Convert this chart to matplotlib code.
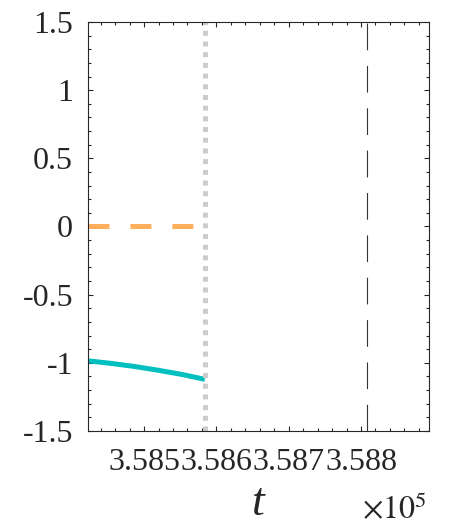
import matplotlib
matplotlib.use("Agg")
import matplotlib.pyplot as plt
from matplotlib.ticker import MultipleLocator, FuncFormatter

# ---- data ----
t_curve = [358422, 358454, 358487, 358519, 358552, 358584]
y_cyan = [-0.985, -1.004, -1.027, -1.054, -1.085, -1.121]
t_orange = [358422, 358584]
y_orange = [0.0, 0.0]
t_switch = 358584      # gray dotted vertical
t_event = 358808       # black dashed vertical
xlim = (358422, 358894)
ylim = (-1.5, 1.5)

plt.rcParams['axes.unicode_minus'] = False
plt.rcParams['lines.scale_dashes'] = False
plt.rcParams['font.family'] = ['Liberation Serif', 'DejaVu Serif']
plt.rcParams['mathtext.fontset'] = 'stix'

fig = plt.figure(figsize=(4.57, 5.24), dpi=100)
ax = fig.add_axes([0.1919, 0.1775, 0.7468, 0.7805])

ax.plot(t_orange, y_orange, color='#FFAE5C', lw=3.6, dashes=(15.1, 15.1), solid_capstyle='butt')
ax.plot(t_curve, y_cyan, color='#00BFBF', lw=3.6, solid_capstyle='butt')
ax.plot([t_switch, t_switch], list(ylim), color='#CCCCCC', lw=3.6, dashes=(3.6, 4.1))
ax.plot([t_event, t_event], list(ylim), color='#333333', lw=0.8, dashes=(19.2, 11.3))

ax.set_xlim(*xlim)
ax.set_ylim(*ylim)

ax.xaxis.set_major_locator(MultipleLocator(100))
ax.xaxis.set_minor_locator(MultipleLocator(20))
ax.yaxis.set_major_locator(MultipleLocator(0.5))
ax.yaxis.set_minor_locator(MultipleLocator(0.1))
ax.xaxis.set_major_formatter(FuncFormatter(lambda v, p: '%.3f' % (v / 1e5)))
ax.yaxis.set_major_formatter(FuncFormatter(lambda v, p: '%g' % v))

ax.tick_params(which='both', direction='in', top=True, right=True,
               color='#262626', labelcolor='#262626', labelsize=23, width=0.8)
ax.tick_params(which='major', length=3.6, pad=10.5)
ax.tick_params(axis='x', which='major', pad=12)
ax.tick_params(which='minor', length=2.2)
for s in ax.spines.values():
    s.set_color('#262626')
    s.set_linewidth(0.8)

ax.set_xlabel('t', fontstyle='italic', fontsize=33, labelpad=4, color='#262626')
fig.text(0.934, 0.012, r'$\times10^{5}$', ha='right', va='baseline', fontsize=23, color='#262626')

fig.savefig('out.png', dpi=100)
